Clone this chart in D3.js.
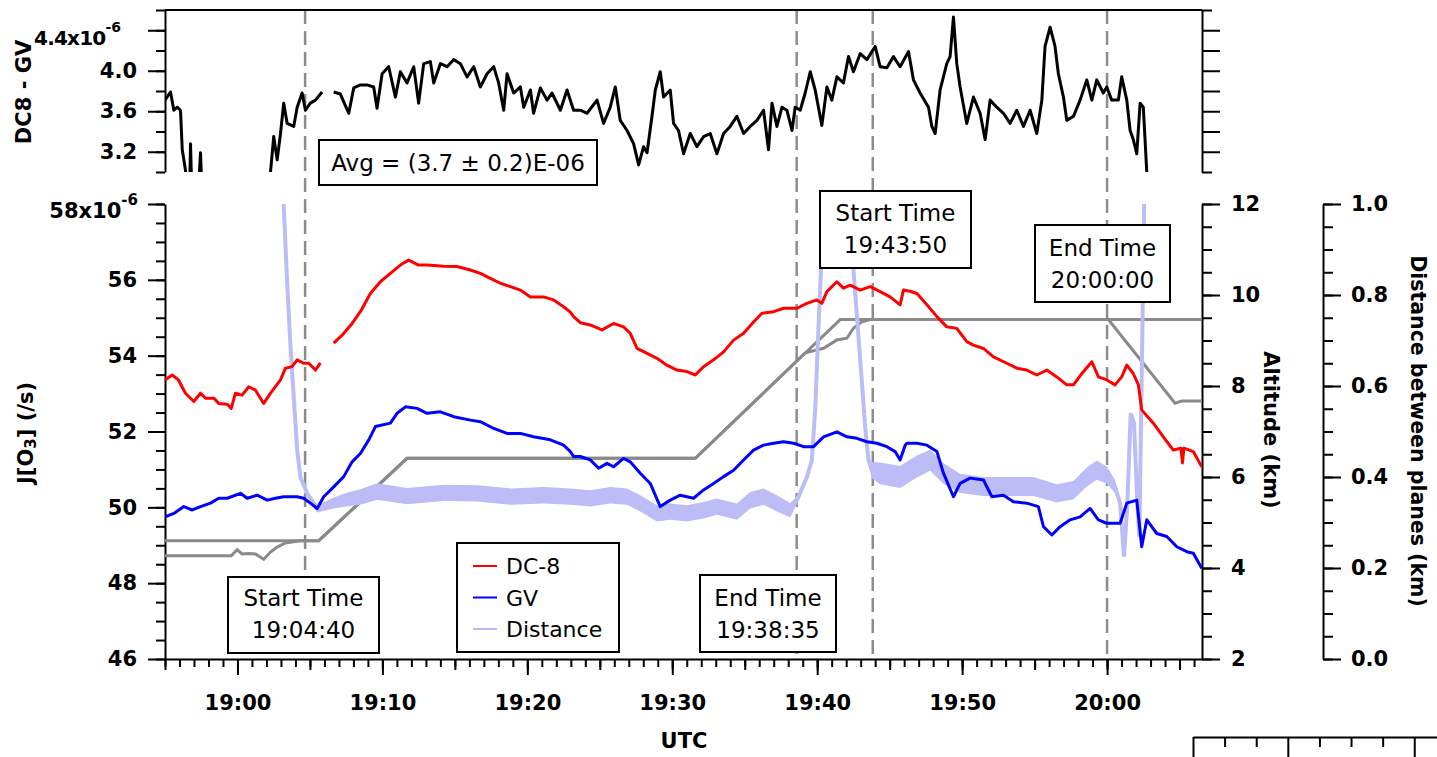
<!DOCTYPE html>
<html><head><meta charset="utf-8">
<script src="https://cdn.jsdelivr.net/npm/d3@7"></script>
<style>
body{margin:0;background:#fff;}
svg{display:block;}
</style></head><body>
<svg id="chart" width="1437" height="757"></svg>
<script>
// ---------------- DATA (time = minutes after 19:00 UTC) ----------------
const seriesNames = ["DC-8", "GV", "Distance"];

// J[O3] of DC-8 (x1e-6 /s)
const dc8J = [[-5.0,53.36],[-4.5,53.49],[-4.07,53.36],[-3.59,53.01],[-3.01,52.79],[-2.55,53.01],[-2.21,52.88],[-1.63,52.88],[-1.29,52.74],[-0.71,52.72],[-0.43,52.61],[-0.14,53.01],[0.32,52.96],[0.78,53.18],[1.24,53.09],[1.81,52.74],[2.28,53.01],[2.97,53.36],[3.31,53.67],[3.77,53.71],[4.12,53.89],[4.57,53.80],[4.92,53.80],[5.38,53.62],[5.72,53.81],[6.2,null],
[6.64,54.33],[7.22,54.54],[7.91,54.85],[8.48,55.16],[9.17,55.64],[9.86,55.95],[10.55,56.17],[11.24,56.39],[11.81,56.52],[12.5,56.39],[13.08,56.39],[14.23,56.36],[15.15,56.35],[16.07,56.26],[16.76,56.17],[17.45,56.04],[18.14,55.91],[18.83,55.82],[19.52,55.73],[20.21,55.55],[21.12,55.55],[21.81,55.47],[22.5,55.29],[22.97,55.15],[23.19,55.03],[23.66,54.87],[24.34,54.81],[25.15,54.68],[25.95,54.85],[26.64,54.76],[27.1,54.59],[27.57,54.19],[28.26,54.06],[28.94,53.93],[29.63,53.75],[30.32,53.62],[31.01,53.58],[31.59,53.49],[32.16,53.71],[32.85,53.89],[33.54,54.10],[34.23,54.41],[34.92,54.59],[35.61,54.89],[36.19,55.12],[36.99,55.16],[37.68,55.25],[38.6,55.25],[39.29,55.38],[39.98,55.47],[40.32,55.38],[40.67,55.69],[41.36,55.95],[41.81,55.78],[42.28,55.86],[42.97,55.73],[43.66,55.82],[44.34,55.69],[45.03,55.55],[45.72,55.34],[45.95,55.73],[46.41,55.70],[46.88,55.64],[47.57,55.34],[48.26,55.03],[48.94,54.76],[49.63,54.72],[50.32,54.37],[50.78,54.28],[51.47,54.19],[52.16,53.97],[53.08,53.80],[53.77,53.67],[54.46,53.62],[55.15,53.49],[55.84,53.62],[56.53,53.44],[57.22,53.23],[57.68,53.23],[58.26,53.53],[58.95,53.84],[59.4,53.44],[59.98,53.36],[60.55,53.23],[61.01,53.44],[61.36,53.75],[61.81,53.53],[62.16,53.23],[62.39,52.57],[63.19,52.22],[63.88,51.86],[64.57,51.51],[65.1,51.56],[65.2,51.17],[65.3,51.56],[65.95,51.47],[66.53,51.07]];

// J[O3] of GV (x1e-6 /s)
const gvJ = [[-5.0,49.75],[-4.39,49.84],[-3.7,50.02],[-3.12,49.93],[-2.55,50.02],[-1.86,50.11],[-1.29,50.24],[-0.71,50.24],[0.21,50.37],[0.67,50.24],[1.36,50.32],[2.05,50.19],[2.62,50.24],[3.19,50.28],[4.12,50.28],[4.57,50.24],[5.03,50.11],[5.5,49.97],[5.95,50.28],[6.64,50.54],[7.33,50.81],[7.91,51.20],[8.48,51.42],[9.06,51.78],[9.52,52.13],[10.55,52.22],[11.01,52.48],[11.59,52.65],[12.39,52.61],[13.08,52.48],[14.0,52.52],[14.92,52.39],[16.07,52.30],[16.76,52.26],[17.68,52.08],[18.6,51.95],[19.52,51.95],[20.43,51.86],[21.59,51.78],[22.5,51.64],[22.97,51.47],[23.19,51.34],[23.66,51.34],[24.34,51.25],[24.92,51.03],[25.5,51.16],[25.95,51.07],[26.64,51.29],[27.1,51.20],[27.79,50.90],[28.48,50.63],[29.17,50.02],[29.86,50.19],[30.55,50.32],[31.47,50.24],[32.16,50.46],[32.85,50.63],[33.54,50.81],[34.23,50.98],[34.92,51.25],[35.61,51.51],[36.3,51.64],[36.99,51.69],[37.68,51.73],[38.37,51.69],[39.06,51.60],[39.75,51.60],[40.44,51.86],[41.36,51.99],[42.05,51.86],[42.74,51.82],[43.43,51.73],[44.12,51.69],[44.81,51.60],[45.38,51.47],[45.72,51.25],[46.07,51.64],[46.19,51.69],[46.88,51.69],[47.57,51.64],[48.26,51.47],[48.71,50.90],[49.4,50.28],[49.86,50.63],[50.55,50.77],[51.47,50.72],[52.05,50.28],[52.85,50.32],[53.54,50.15],[54.46,50.11],[55.26,50.02],[55.61,49.49],[56.19,49.27],[56.76,49.49],[57.45,49.67],[58.14,49.75],[58.83,49.97],[59.4,49.67],[59.98,49.58],[60.9,49.58],[61.36,50.11],[62.05,50.19],[62.39,48.96],[62.74,49.67],[63.43,49.31],[64.12,49.23],[64.81,48.96],[65.5,48.83],[65.95,48.79],[66.53,48.39]];

// Distance between planes (km): [time, distance, half-width of the fast oscillation band]
const distance = [[3.05,1.05,0],[3.19,0.998,0],[3.43,0.826,0],[3.66,0.686,0],[4.12,0.459,0],[4.34,0.40,0.003],[4.81,0.364,0.006],[5.5,0.33,0.008],[6.64,0.343,0.012],[7.5,0.35,0.015],[8.48,0.356,0.017],[9.63,0.368,0.018],[11.7,0.358,0.018],[14.23,0.365,0.018],[16.53,0.364,0.018],[18.83,0.357,0.018],[21.12,0.36,0.018],[22.97,0.357,0.018],[24.34,0.353,0.018],[25.72,0.36,0.018],[26.88,0.357,0.018],[27.79,0.342,0.018],[28.94,0.32,0.018],[29.86,0.324,0.018],[31.01,0.32,0.018],[32.16,0.327,0.018],[33.08,0.335,0.018],[34.46,0.324,0.018],[35.38,0.349,0.018],[36.3,0.357,0.018],[37.22,0.342,0.018],[38.14,0.327,0.016],[38.6,0.349,0.008],[39.29,0.40,0.004],[39.63,0.437,0],[39.86,0.547,0],[40.09,0.73,0],[40.26,0.855,0],[40.6,1.08,0],[42.1,1.08,0],[42.5,0.855,0],[42.97,0.657,0],[43.31,0.51,0],[43.54,0.437,0.008],[43.77,0.415,0.018],[44.34,0.408,0.024],[45.72,0.40,0.024],[46.88,0.423,0.024],[47.79,0.437,0.023],[48.71,0.408,0.023],[49.86,0.386,0.021],[51.47,0.379,0.021],[53.31,0.379,0.021],[54.92,0.379,0.021],[56.53,0.364,0.02],[57.68,0.371,0.02],[58.6,0.40,0.021],[59.29,0.415,0.021],[59.98,0.404,0.019],[60.55,0.379,0.014],[60.9,0.342,0.008],[61.17,0.225,0],[61.4,0.342,0],[61.63,0.54,0],[61.86,0.518,0],[62.09,0.342,0],[62.23,0.269,0],[62.46,0.774,0],[62.6,1.1,0]];

// Altitudes of the two planes (km)
const altA = [[-5.0,4.60],[5.61,4.60],[11.7,6.41],[31.59,6.41],[41.59,9.46],[60.09,9.46],[64.69,7.62],[65.15,7.67],[66.55,7.67]];
const altB = [[-5.0,4.27],[-0.43,4.27],[-0.02,4.40],[0.32,4.31],[0.78,4.32],[1.24,4.31],[1.81,4.19],[2.28,4.35],[2.74,4.46],[3.31,4.55],[4.34,4.60],[5.61,4.60],[11.7,6.41],[31.59,6.41],[39.17,8.73],[40.44,8.83],[41.36,9.01],[42.05,9.05],[42.5,9.27],[43.08,9.41],[43.66,9.46],[66.55,9.46]];

// DC8 - GV difference (x1e-6 /s); values below 3.0 are off scale
const diffTop = [[-5.0,3.71],[-4.62,3.79],[-4.39,3.61],[-4.16,3.64],[-3.93,3.61],[-3.81,3.22],[-3.59,3.02],[-3.5,2.8],[-3.3,2.8],[-3.24,3.28],[-3.15,2.8],[-2.7,2.8],[-2.55,3.19],[-2.45,2.8],[2.2,2.8],[2.28,3.0],[2.5,3.35],[2.74,3.12],[2.97,3.38],[3.19,3.68],[3.43,3.48],[3.88,3.45],[4.12,3.64],[4.46,3.78],[4.69,3.61],[5.03,3.68],[5.38,3.71],[5.84,3.79],[6.2,null],
[6.64,3.79],[7.10,3.77],[7.68,3.58],[8.02,3.83],[8.48,3.86],[8.94,3.86],[9.40,3.84],[9.63,3.63],[9.98,3.97],[10.43,4.04],[10.90,3.74],[11.24,3.99],[11.70,3.88],[12.16,4.04],[12.50,3.68],[12.85,4.07],[13.31,4.09],[13.54,3.88],[14.0,4.07],[14.46,4.04],[14.92,4.11],[15.38,4.07],[15.84,3.94],[16.30,4.04],[16.76,3.84],[17.22,3.97],[17.68,4.04],[18.02,3.88],[18.37,3.61],[18.60,3.97],[19.06,3.78],[19.52,3.84],[19.75,3.64],[20.21,3.81],[20.43,3.58],[20.90,3.83],[21.36,3.71],[21.70,3.78],[22.28,3.61],[22.74,3.81],[23.19,3.61],[23.66,3.61],[24.12,3.58],[24.81,3.71],[25.26,3.48],[25.72,3.64],[26.07,3.84],[26.41,3.51],[26.88,3.41],[27.33,3.28],[27.68,3.07],[28.02,3.25],[28.26,3.19],[28.60,3.55],[28.83,3.81],[29.17,3.99],[29.40,3.74],[29.86,3.81],[30.09,3.48],[30.43,3.41],[30.78,3.18],[31.24,3.38],[31.70,3.25],[32.16,3.35],[32.62,3.38],[33.08,3.18],[33.54,3.38],[34.0,3.45],[34.46,3.55],[34.92,3.38],[35.38,3.45],[35.84,3.51],[36.30,3.61],[36.64,3.22],[36.88,3.68],[37.22,3.45],[37.57,3.64],[37.91,3.61],[38.26,3.41],[38.48,3.64],[38.83,3.61],[39.17,3.78],[39.52,3.99],[39.86,3.81],[40.32,3.46],[40.67,3.84],[41.01,3.71],[41.36,3.94],[41.81,3.88],[42.16,4.14],[42.50,3.99],[42.97,4.17],[43.43,4.11],[44.0,4.24],[44.34,4.04],[44.81,4.03],[45.26,4.14],[45.72,4.04],[46.30,4.19],[46.64,3.91],[47.10,3.78],[47.68,3.64],[47.91,3.45],[48.14,3.38],[48.48,3.81],[48.94,4.07],[49.17,4.14],[49.40,4.53],[49.63,4.07],[49.86,3.84],[50.32,3.48],[50.78,3.74],[51.24,3.58],[51.59,3.32],[51.93,3.71],[52.39,3.64],[52.85,3.58],[53.31,3.48],[53.77,3.61],[54.23,3.45],[54.69,3.61],[55.15,3.38],[55.50,3.71],[55.72,4.24],[56.07,4.43],[56.41,4.24],[56.64,3.97],[56.99,3.74],[57.22,3.51],[57.68,3.55],[58.14,3.71],[58.60,3.91],[58.95,3.71],[59.29,3.91],[59.74,3.78],[59.98,3.84],[60.32,3.71],[60.78,3.71],[61.01,3.94],[61.36,3.71],[61.59,3.41],[61.81,3.32],[62.05,3.18],[62.28,3.68],[62.50,3.64],[62.74,3.0],[62.8,2.8]];

// Tick values / labels
const jMajor = [46, 48, 50, 52, 54, 56, 58];
const altMajor = [2, 4, 6, 8, 10, 12];
const distMajor = [0, 0.2, 0.4, 0.6, 0.8, 1.0];
const topMajor = [3.2, 3.6, 4.0, 4.4];
const topLongRight = [3.2, 3.4, 3.6, 3.8, 4.0, 4.2, 4.4];
const markerTimes = ["19:04:40", "19:38:35", "19:43:50", "20:00:00"];
const markerKinds = ["Start Time", "End Time", "Start Time", "End Time"];
const avgText = "Avg = (3.7 \u00b1 0.2)E-06";
const miniMinor = [1, 2, 4, 5, 6];
const miniMajor = [0, 3, 7];

// ---------------- DRAWING ----------------
const FONT = "'DejaVu Sans', 'Liberation Sans', sans-serif";
const svg = d3.select("#chart").attr("font-family", FONT);
const base = Date.UTC(2000, 0, 1, 19, 0, 0);
const toDate = m => new Date(base + m * 60000);
const parseHMS = s => { const [h, m, sec] = s.split(":").map(Number); return new Date(Date.UTC(2000, 0, 1, h, m, sec)); };

const x = d3.scaleUtc().domain([toDate(-5), toDate(66.55)]).range([165, 1202]);
const yJ = d3.scaleLinear().domain([46, 58]).range([659, 204]);
const yAlt = d3.scaleLinear().domain([2, 12]).range([659, 204]);
const yDist = d3.scaleLinear().domain([0, 1]).range([659, 204]);
const yTop = d3.scaleLinear().domain([3.0, 4.6]).range([172, 10]);

const colors = { dc8: "#ff0000", gv: "#0000ff", dist: "#bcbcf7", alt: "#8a8a8a", diff: "#000000", dash: "#8c8c8c" };

const defs = svg.append("defs");
defs.append("clipPath").attr("id", "clipMain").append("rect")
  .attr("x", x.range()[0]).attr("y", yJ.range()[1]).attr("width", x.range()[1] - x.range()[0]).attr("height", yJ.range()[0] - yJ.range()[1]);
defs.append("clipPath").attr("id", "clipTop").append("rect")
  .attr("x", x.range()[0]).attr("y", yTop.range()[1]).attr("width", x.range()[1] - x.range()[0]).attr("height", yTop.range()[0] - yTop.range()[1]);

function styleAxis(g, size = 21) {
  g.selectAll("path,line").attr("stroke", "#000").attr("stroke-width", 2);
  g.selectAll("text").attr("fill", "#000").attr("font-family", FONT).attr("font-size", size).attr("font-weight", "bold");
}
const noDomain = g => g.select(".domain").remove();

// dashed marker lines
svg.append("g").selectAll("line").data(markerTimes).join("line")
  .attr("x1", d => x(parseHMS(d))).attr("x2", d => x(parseHMS(d)))
  .attr("y1", yTop.range()[1]).attr("y2", yJ.range()[0])
  .attr("stroke", colors.dash).attr("stroke-width", 2.5).attr("stroke-dasharray", "14,7");

// ---- bottom axis ----
const gx = svg.append("g").attr("transform", `translate(0,${yJ.range()[0]})`);
gx.call(d3.axisBottom(x).ticks(d3.utcMinute.every(1)).tickSize(8).tickSizeOuter(0).tickFormat(""));
gx.append("g").call(d3.axisBottom(x).ticks(d3.utcMinute.every(5)).tickSize(11).tickFormat("")).call(noDomain);
gx.append("g").call(d3.axisBottom(x).ticks(d3.utcMinute.every(10)).tickSize(16).tickFormat(d3.utcFormat("%H:%M"))).call(noDomain)
  .call(g => g.selectAll("text").attr("y", 51).attr("dy", null));
styleAxis(gx);
svg.append("text").attr("x", 684).attr("y", 748).attr("text-anchor", "middle")
  .attr("font-size", 21).attr("font-weight", "bold").text("UTC");

// ---- left J axis ----
const gy = svg.append("g").attr("transform", `translate(${x.range()[0]},0)`);
gy.call(d3.axisLeft(yJ).tickValues(d3.range(46, 58.001, 0.5)).tickSize(9).tickSizeOuter(0).tickFormat(""));
gy.append("g").call(d3.axisLeft(yJ).tickValues(jMajor).tickSize(17).tickPadding(11).tickFormat(d => d === 58 ? "" : d)).call(noDomain);
styleAxis(gy);
{
  const t = svg.append("text").attr("x", 138).attr("y", yJ(58) + 14).attr("text-anchor", "end")
    .attr("font-size", 21).attr("font-weight", "bold");
  t.append("tspan").text("58x10");
  t.append("tspan").attr("dy", -13).attr("font-size", 15).text("-6");
}
{
  const t = svg.append("text").attr("transform", "translate(26,433) rotate(-90)").attr("text-anchor", "middle")
    .attr("dominant-baseline", "central").attr("font-size", 21).attr("font-weight", "bold");
  t.append("tspan").text("J[O");
  t.append("tspan").attr("dy", 5).attr("font-size", 15).text("3");
  t.append("tspan").attr("dy", -5).text("] (/s)");
}

// ---- altitude axis ----
const ga = svg.append("g").attr("transform", `translate(${x.range()[1]},0)`);
ga.call(d3.axisRight(yAlt).tickValues(d3.range(2, 12.001, 0.5)).tickSize(10).tickSizeOuter(0).tickFormat(""));
ga.append("g").call(d3.axisRight(yAlt).tickValues(altMajor).tickSize(18).tickPadding(11).tickFormat(d3.format("d"))).call(noDomain);
styleAxis(ga);
svg.append("text").attr("transform", "translate(1271,430) rotate(90)").attr("text-anchor", "middle")
  .attr("dominant-baseline", "central").attr("font-size", 21).attr("font-weight", "bold").text("Altitude (km)");

// ---- distance axis ----
const gd = svg.append("g").attr("transform", "translate(1323,0)");
gd.call(d3.axisRight(yDist).tickValues(d3.range(0, 1.0001, 0.05)).tickSize(10).tickSizeOuter(0).tickFormat(""));
gd.append("g").call(d3.axisRight(yDist).tickValues(distMajor).tickSize(18).tickPadding(10).tickFormat(d3.format(".1f"))).call(noDomain);
styleAxis(gd);
svg.append("text").attr("transform", "translate(1418,431) rotate(90)").attr("text-anchor", "middle")
  .attr("dominant-baseline", "central").attr("font-size", 20.5).attr("font-weight", "bold").text("Distance between planes (km)");

// ---- top panel axes ----
const gtl = svg.append("g").attr("transform", `translate(${x.range()[0]},0)`);
gtl.call(d3.axisLeft(yTop).tickValues(d3.range(3.0, 4.601, 0.2)).tickSize(9).tickSizeOuter(0).tickFormat(""));
gtl.append("g").call(d3.axisLeft(yTop).tickValues(topMajor).tickSize(17).tickPadding(11).tickFormat(d => d === 4.4 ? "" : d.toFixed(1))).call(noDomain);
styleAxis(gtl);
{
  const t = svg.append("text").attr("x", 121).attr("y", yTop(4.4) + 15).attr("text-anchor", "end")
    .attr("font-size", 20).attr("font-weight", "bold").attr("letter-spacing", -0.8);
  t.append("tspan").text("4.4x10");
  t.append("tspan").attr("dy", -13).attr("font-size", 14).attr("letter-spacing", 0).text("-6");
}
svg.append("text").attr("transform", "translate(24,92) rotate(-90)").attr("text-anchor", "middle")
  .attr("dominant-baseline", "central").attr("font-size", 21).attr("font-weight", "bold").text("DC8 - GV");
const gtr = svg.append("g").attr("transform", `translate(${x.range()[1]},0)`);
gtr.call(d3.axisRight(yTop).tickValues([3.0, 4.6]).tickSize(10).tickSizeOuter(0).tickFormat(""));
gtr.append("g").call(d3.axisRight(yTop).tickValues(topLongRight).tickSize(18).tickFormat("")).call(noDomain);
styleAxis(gtr);
svg.append("line").attr("x1", x.range()[0]).attr("x2", x.range()[1]).attr("y1", yTop.range()[1]).attr("y2", yTop.range()[1])
  .attr("stroke", "#000").attr("stroke-width", 2);

// ---- mini axis bottom-right ----
const miniX = d3.scaleLinear().domain([0, 7.72]).range([1193, 1437]);
const gm = svg.append("g").attr("transform", "translate(0,737)");
gm.call(d3.axisBottom(miniX).tickValues(miniMinor).tickSize(10).tickSizeOuter(0).tickFormat(""));
gm.append("g").call(d3.axisBottom(miniX).tickValues(miniMajor).tickSize(20).tickFormat("")).call(noDomain);
styleAxis(gm);

// ---- data lines ----
const lineOf = ys => d3.line().defined(d => d[1] !== null).x(d => x(toDate(d[0]))).y(d => ys(d[1]));

const mainG = svg.append("g").attr("clip-path", "url(#clipMain)");
mainG.append("path").datum(altB).attr("d", lineOf(yAlt)).attr("fill", "none").attr("stroke", colors.alt).attr("stroke-width", 3);
mainG.append("path").datum(altA).attr("d", lineOf(yAlt)).attr("fill", "none").attr("stroke", colors.alt).attr("stroke-width", 3);
mainG.append("path").datum(distance)
  .attr("d", d3.area().x(d => x(toDate(d[0]))).y0(d => yDist(d[1] - d[2])).y1(d => yDist(d[1] + d[2])))
  .attr("fill", colors.dist);
mainG.append("path").datum(distance).attr("d", lineOf(yDist)).attr("fill", "none").attr("stroke", colors.dist).attr("stroke-width", 4);
mainG.append("path").datum(dc8J).attr("d", lineOf(yJ)).attr("fill", "none").attr("stroke", colors.dc8).attr("stroke-width", 3).attr("stroke-linejoin", "round");
mainG.append("path").datum(gvJ).attr("d", lineOf(yJ)).attr("fill", "none").attr("stroke", colors.gv).attr("stroke-width", 3).attr("stroke-linejoin", "round");

const topG = svg.append("g").attr("clip-path", "url(#clipTop)");
topG.append("path").datum(diffTop).attr("d", lineOf(yTop)).attr("fill", "none").attr("stroke", colors.diff).attr("stroke-width", 3).attr("stroke-linejoin", "round");

// ---- annotation boxes ----
const boxes = [
  { i: 0, x0: 228, x1: 379, y0: 577, y1: 653, b1: 606, b2: 638 },
  { i: 1, x0: 700, x1: 836, y0: 575, y1: 652, b1: 606, b2: 638 },
  { i: 2, x0: 820, x1: 971, y0: 191, y1: 268, b1: 221, b2: 253 },
  { i: 3, x0: 1035, x1: 1170, y0: 225, y1: 302, b1: 256, b2: 288 }
];
const ann = svg.append("g");
boxes.forEach(b => {
  const g = ann.append("g");
  g.append("rect").attr("x", b.x0).attr("y", b.y0).attr("width", b.x1 - b.x0).attr("height", b.y1 - b.y0)
    .attr("fill", "#fff").attr("stroke", "#000").attr("stroke-width", 2);
  const cx = (b.x0 + b.x1) / 2;
  g.append("text").attr("x", cx).attr("y", b.b1).attr("text-anchor", "middle").attr("font-size", 23).text(markerKinds[b.i]);
  g.append("text").attr("x", cx).attr("y", b.b2).attr("text-anchor", "middle").attr("font-size", 23).text(markerTimes[b.i]);
});
ann.append("rect").attr("x", 319).attr("y", 140).attr("width", 278).attr("height", 45)
  .attr("fill", "#fff").attr("stroke", "#000").attr("stroke-width", 2);
ann.append("text").attr("x", 458).attr("y", 171).attr("text-anchor", "middle").attr("font-size", 23).text(avgText);

// ---- legend ----
const leg = svg.append("g");
leg.append("rect").attr("x", 457).attr("y", 543).attr("width", 162).attr("height", 109)
  .attr("fill", "#fff").attr("stroke", "#000").attr("stroke-width", 2);
const legColors = [colors.dc8, colors.gv, "#c2b4f0"];
seriesNames.forEach((n, i) => {
  const cy = 566 + i * 31.5;
  leg.append("line").attr("x1", 473).attr("x2", 497).attr("y1", cy).attr("y2", cy).attr("stroke", legColors[i]).attr("stroke-width", 2);
  leg.append("text").attr("x", 506).attr("y", cy + 8).attr("font-size", 22).text(n);
});
</script>
</body></html>
